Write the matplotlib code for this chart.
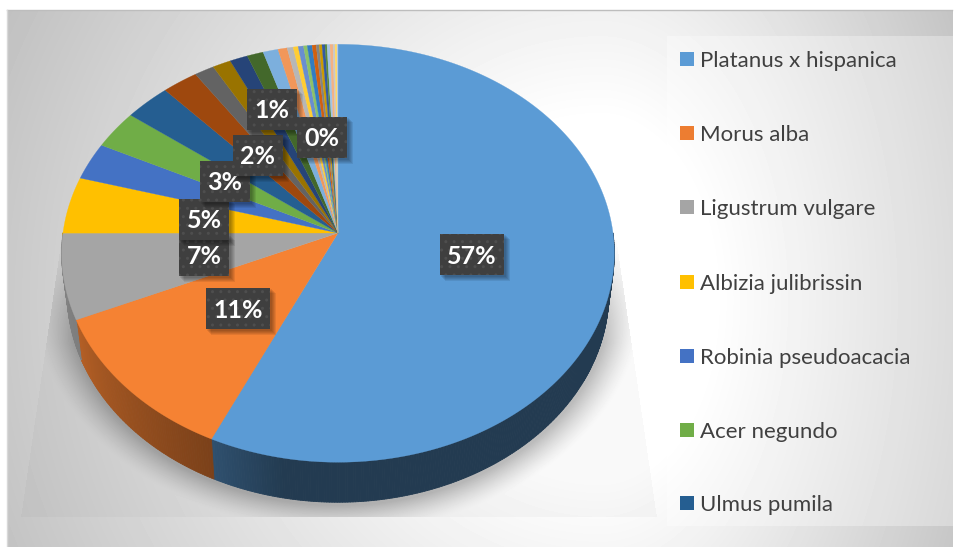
import numpy as np
import matplotlib
matplotlib.use("Agg")
import matplotlib.pyplot as plt
from matplotlib.collections import PolyCollection
from matplotlib.colors import to_rgb
from matplotlib.patches import Rectangle

# species shown in the legend (the other slices have no readable name)
species = ['Platanus x hispanica', 'Morus alba', 'Ligustrum vulgare', 'Albizia julibrissin',
           'Robinia pseudoacacia', 'Acer negundo', 'Ulmus pumila']
shares = [56.9, 11.5, 6.6, 4.4, 2.9, 3.0, 2.95, 2.3, 1.27, 1.18, 1.15, 1.05, 0.97, 0.59,
          0.39, 0.32, 0.34, 0.24, 0.31, 0.26, 0.19, 0.18, 0.19, 0.13, 0.19, 0.19, 0.13, 0.13, 0.06]
colors = ['#5B9BD5', '#ED7D31', '#A5A5A5', '#FFC000', '#4472C4', '#70AD47', '#255E91', '#9E480E',
          '#636363', '#997300', '#264478', '#43682B', '#7CAFDD', '#F1975A', '#B7B7B7', '#FFCD33',
          '#698ED0', '#8CC168', '#327DC2', '#D2600F', '#848484', '#CC9A00', '#335AA1', '#5A8A39',
          '#A3C4E5', '#F4B183', '#C9C9C9', '#FFD966', '#B4C7E7']
label_text = ['57%', '11%', '7%', '5%', '3%', '2%', '1%', '0%']
label_x = [472, 238, 204, 204, 225, 258, 272, 322]
label_y = [254, 308, 255, 219, 181, 155, 109, 137]
label_w = [64, 64, 50, 50, 50, 50, 50, 50]

plt.rcParams['font.family'] = ['Lato', 'DejaVu Sans']

W, H = 956, 547
fig = plt.figure(figsize=(W / 100, H / 100), dpi=100, facecolor='white')
ax = fig.add_axes([0, 0, 1, 1])
ax.set_xlim(0, W)
ax.set_ylim(H, 0)
ax.axis('off')

# perspective of the tilted pie
CX, CY = 338, 233
RX, RY, KV = 275.0, 207.0, 0.097


def project(theta_deg, scale=1.0, drop=0.0):
    t = np.radians(theta_deg)
    u, v = np.sin(t), np.cos(t)
    w = 1 + KV * v
    return CX + scale * RX * u / w, CY - RY * v / w + drop


# background: grey gradient with a white middle
yy, xx = np.mgrid[10:547, 7:953]
dx = xx - 600.0
dx = np.where(dx > 0, dx * 1.6, dx)
r = np.hypot(dx, yy - 300.0)
bg = 255 - 0.13 * np.clip(r - 180, 0, None)
# legend panel is a bit lighter
panel = (xx >= 667) & (yy >= 36) & (yy <= 525)
bg = np.where(panel, bg + (255 - bg) * 0.3, bg)
# soft shadow under the pie, cut off by a trapezoid
f = np.hypot((xx - 338) / 272.0, (yy - 295) / 210.0)
d = (f - 1) * 240
shadow = 0.24 * np.clip(1 - d / 30, 0, 1) ** 1.4 * np.clip((yy - 233) / 110.0, 0, 1)
edge = 20 * (yy - 233) / 137.0
inside = (xx > 62 - edge) & (xx < 615 + edge) & (yy < 517)
shadow = np.where(inside, shadow, 0)
faint = 0.025 * inside * np.clip((yy - 233) / 130.0, 0, 1)
bg = bg * (1 - shadow - faint)
ax.imshow(bg / 255, cmap='gray', vmin=0, vmax=1, extent=[7, 953, 547, 10], aspect='auto', zorder=0,
          interpolation='bilinear')
ax.plot([7, 952], [10, 10], color='#BDBDBD', lw=1, zorder=1)
ax.plot([7, 7], [10, 547], color='#D8D8D8', lw=1, zorder=1)
ax.set_xlim(0, W)
ax.set_ylim(H, 0)

edges = np.concatenate([[0], np.cumsum(shares)])
edges = edges / edges[-1] * 360

# side wall, only the front half shows
for i in range(len(shares)):
    lo, hi = max(edges[i], 90), min(edges[i + 1], 270)
    if hi <= lo:
        continue
    th = np.linspace(lo, hi, max(3, int((hi - lo) * 2)))
    x0, y0 = project(th)
    x1, y1 = project(th, scale=0.98, drop=40)
    quads, cols = [], []
    base = np.array(to_rgb(colors[i]))
    for j in range(len(th) - 1):
        quads.append([(x0[j], y0[j]), (x0[j + 1], y0[j + 1]), (x1[j + 1], y1[j + 1]), (x1[j], y1[j])])
        shade = np.interp(th[j], [90, 190, 204.8, 246, 270], [0.38, 0.38, 0.52, 0.76, 0.8])
        cols.append(base * shade)
    ax.add_collection(PolyCollection(quads, facecolors=cols, edgecolors=cols, linewidths=0.6, zorder=2))

# top face
for i in range(len(shares)):
    th = np.linspace(edges[i], edges[i + 1], max(3, int((edges[i + 1] - edges[i]) * 2)))
    x, y = project(th)
    c = '#F58233' if i == 1 else colors[i]
    ax.fill(np.r_[CX, x], np.r_[CY, y], facecolor=c, edgecolor=c, lw=0.2, zorder=3)

# data labels, dark dotted boxes with a shadow
for n in range(len(label_text)):
    w, h = label_w[n], 41
    x = label_x[n] - w / 2
    y = label_y[n] - h / 2
    for k in range(1, 6):
        ax.add_patch(Rectangle((x + k, y + k), w + 1, h + 1, facecolor='black', alpha=0.08, lw=0, zorder=4 + n * 0.1))
    ax.add_patch(Rectangle((x, y), w, h, facecolor='#3F3F3F', edgecolor='#4E4E4E', hatch='..', lw=0,
                           zorder=4.05 + n * 0.1))
    ax.text(label_x[n], label_y[n], label_text[n], color='white', fontsize=18, fontweight='bold',
            ha='center', va='center_baseline', zorder=4.08 + n * 0.1)

# legend
legend_y = [59, 133, 207, 282, 356, 430, 503]
for i, name in enumerate(species):
    ax.add_patch(Rectangle((680, legend_y[i] - 7), 14, 14, facecolor=colors[i], lw=0, zorder=6))
    ax.text(700, legend_y[i], name, color='#404040', fontsize=16, ha='left', va='center_baseline', zorder=6)

fig.savefig('out.png', dpi=100, facecolor='white')
